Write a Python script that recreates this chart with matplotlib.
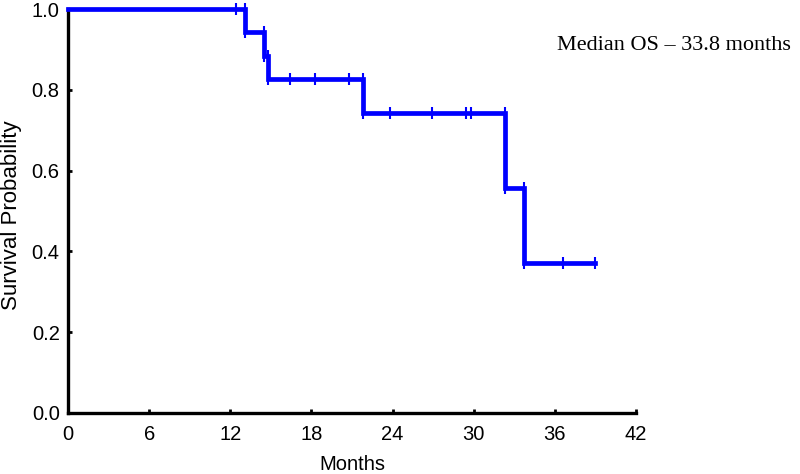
import matplotlib
matplotlib.use("Agg")
import matplotlib.pyplot as plt

# Kaplan-Meier steps
event_times = [13.1, 14.5, 14.8, 21.8, 32.3, 33.7]
surv_before = [1.0, 0.944, 0.885, 0.827, 0.744, 0.557]
surv_after = [0.944, 0.885, 0.827, 0.744, 0.557, 0.372]
censor_times = [12.4, 16.4, 18.3, 20.8, 23.8, 26.9, 29.4, 29.8, 36.6, 39.0]
censor_surv = [1.0, 0.827, 0.827, 0.827, 0.744, 0.744, 0.744, 0.744, 0.372, 0.372]
end_time = 39.0
x_ticks = [0, 6, 12, 18, 24, 30, 36, 42]
y_ticks = [0.0, 0.2, 0.4, 0.6, 0.8, 1.0]

fig = plt.figure(figsize=(8, 4.74), dpi=100)
ax = fig.add_axes([0.085, 0.1287, 0.71, 0.852])

xs = [0.0]
ys = [1.0]
for t, b, a in zip(event_times, surv_before, surv_after):
    xs += [t, t]
    ys += [b, a]
xs.append(end_time)
ys.append(surv_after[-1])
blue = "#0000ff"
ax.plot(xs, ys, color=blue, lw=3.4, solid_joinstyle="miter", zorder=3, clip_on=False)
for tx, ty in [(censor_times, censor_surv), (event_times, surv_before), (event_times, surv_after)]:
    ax.plot(tx, ty, ls="none", marker="|", ms=9, mew=1.5, color=blue, zorder=4, clip_on=False)

ax.set_xlim(0, 42)
ax.set_ylim(0, 1.0)
ax.set_xticks(x_ticks)
ax.set_yticks(y_ticks)
ax.set_yticklabels([f"{v:.1f}" for v in y_ticks])
for s in ["top", "right"]:
    ax.spines[s].set_visible(False)
for s in ["left", "bottom"]:
    ax.spines[s].set_linewidth(2.4)
ax.tick_params(direction="in", length=3, width=2, labelsize=14.5)
ax.tick_params(axis="x", pad=9)
ax.tick_params(axis="y", pad=6)
for lab in ax.get_xticklabels() + ax.get_yticklabels():
    lab.set_family("Liberation Sans")
fig.text(352 / 800, 1 - 464 / 474, "Months", ha="center", va="center",
         fontsize=14.5, family="Liberation Sans")
fig.text(12 / 800, 1 - 215 / 474, "Survival Probability", ha="center", va="center",
         rotation=90, fontsize=16, family="Liberation Sans")
fig.text(0.988, 0.903, "Median OS \u2013 33.8 months", ha="right", va="center",
         fontsize=16, family="Liberation Serif")
fig.savefig("out.png", dpi=100)
